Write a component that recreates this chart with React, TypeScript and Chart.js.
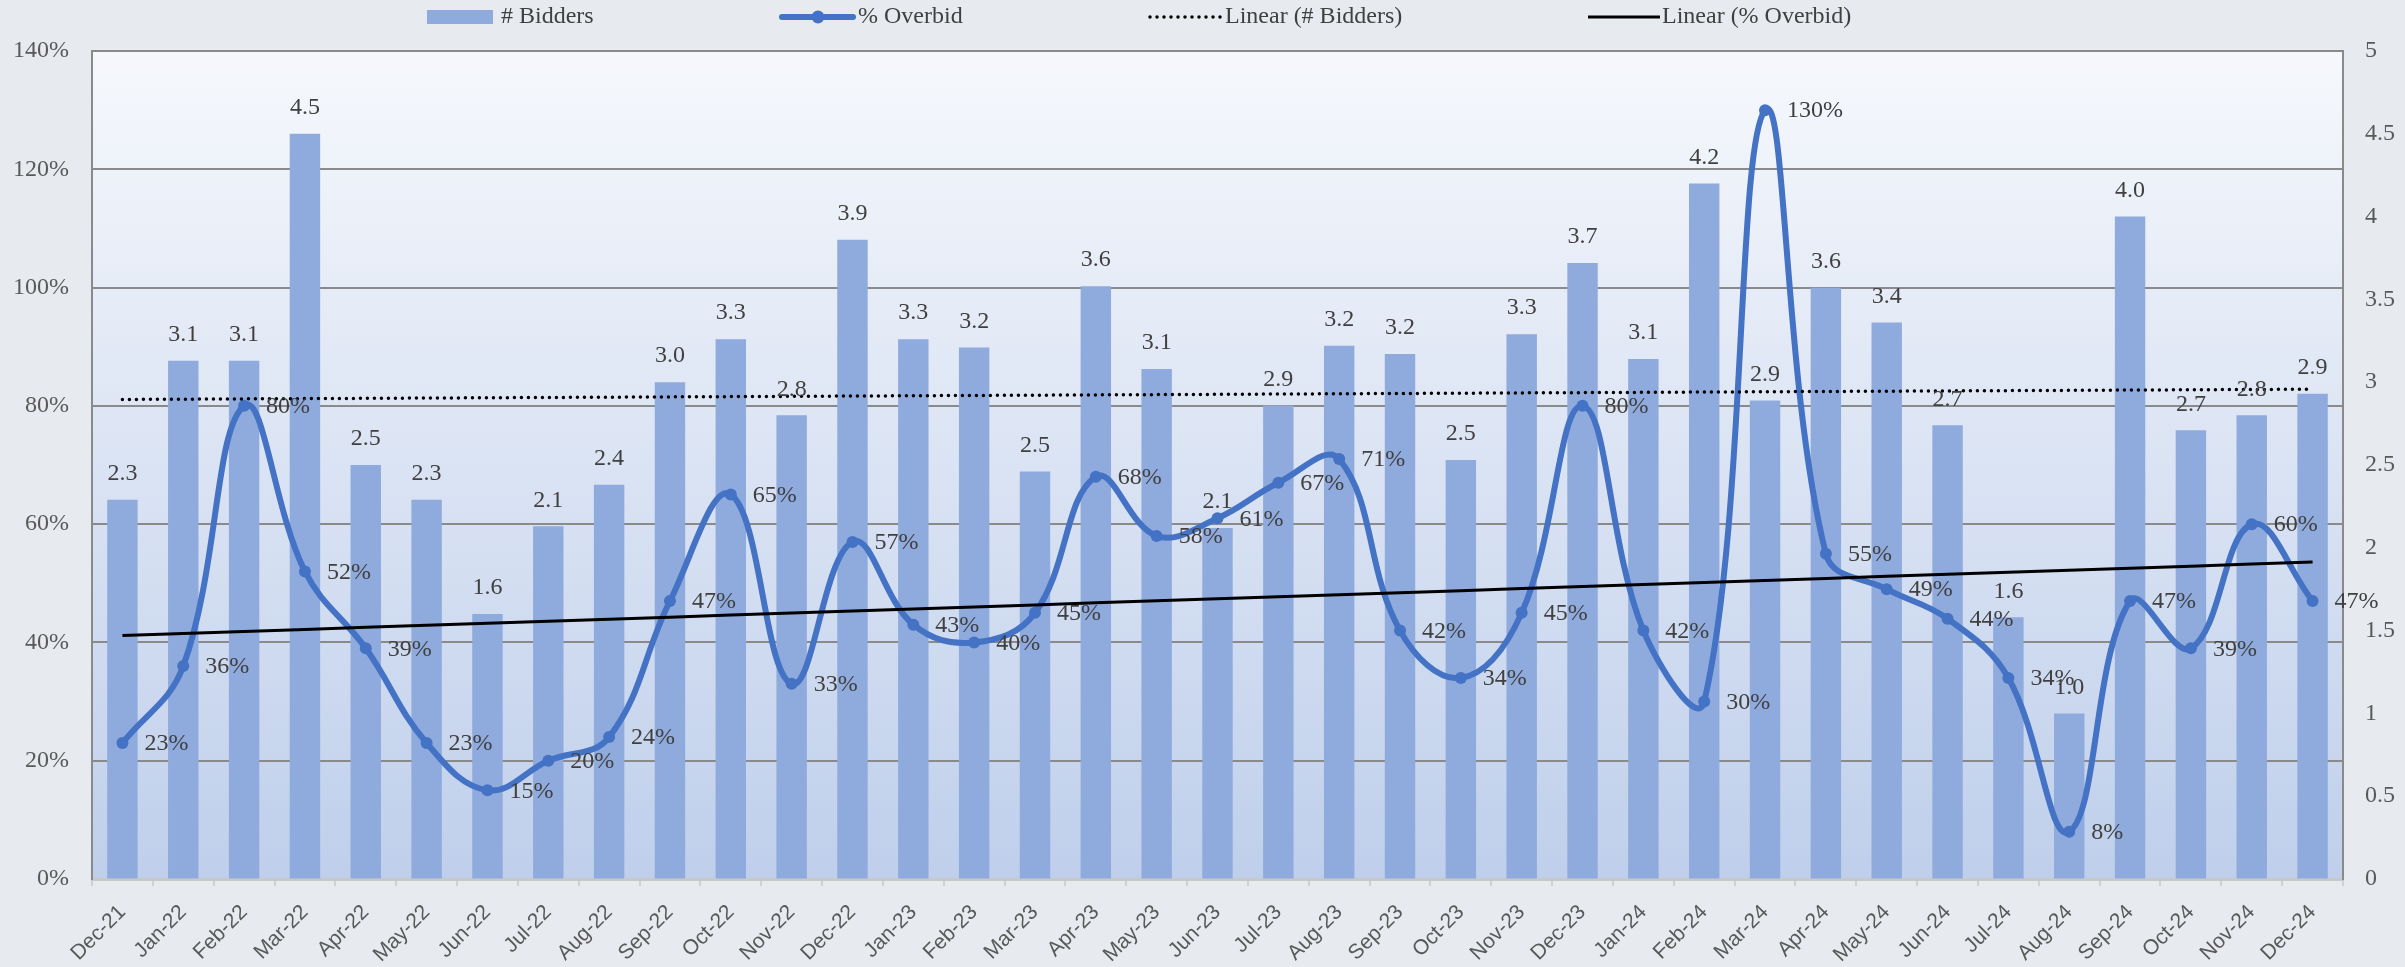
import React, { useEffect, useRef } from 'react';
import { Chart, registerables } from 'chart.js';

Chart.register(...registerables);

const months = [
  'Dec-21', 'Jan-22', 'Feb-22', 'Mar-22', 'Apr-22', 'May-22', 'Jun-22', 'Jul-22', 'Aug-22', 'Sep-22',
  'Oct-22', 'Nov-22', 'Dec-22', 'Jan-23', 'Feb-23', 'Mar-23', 'Apr-23', 'May-23', 'Jun-23', 'Jul-23',
  'Aug-23', 'Sep-23', 'Oct-23', 'Nov-23', 'Dec-23', 'Jan-24', 'Feb-24', 'Mar-24', 'Apr-24', 'May-24',
  'Jun-24', 'Jul-24', 'Aug-24', 'Sep-24', 'Oct-24', 'Nov-24', 'Dec-24',
];

// # Bidders (right axis); labels show one decimal
const bidders = [
  2.29, 3.13, 3.13, 4.5, 2.5, 2.29, 1.6, 2.13, 2.38, 3.0,
  3.26, 2.8, 3.86, 3.26, 3.21, 2.46, 3.58, 3.08, 2.12, 2.86,
  3.22, 3.17, 2.53, 3.29, 3.72, 3.14, 4.2, 2.89, 3.57, 3.36,
  2.74, 1.58, 1.0, 4.0, 2.71, 2.8, 2.93,
];

// % Overbid (left axis)
const overbid = [
  23, 36, 80, 52, 39, 23, 15, 20, 24, 47,
  65, 33, 57, 43, 40, 45, 68, 58, 61, 67,
  71, 42, 34, 45, 80, 42, 30, 130, 55, 49,
  44, 34, 8, 47, 39, 60, 47,
];

const pctTicks = [0, 20, 40, 60, 80, 100, 120, 140];
const bidTicks = [0, 0.5, 1, 1.5, 2, 2.5, 3, 3.5, 4, 4.5, 5];

const legendItems = ['# Bidders', '% Overbid', 'Linear (# Bidders)', 'Linear (% Overbid)'];

// Linear least-squares trendline (as Excel's "Linear" trendline)
function linearTrend(values: number[]): number[] {
  const n = values.length;
  let sx = 0, sy = 0, sxx = 0, sxy = 0;
  values.forEach((y, i) => { sx += i; sy += y; sxx += i * i; sxy += i * y; });
  const slope = (n * sxy - sx * sy) / (n * sxx - sx * sx);
  const icpt = (sy - slope * sx) / n;
  return values.map((_, i) => icpt + slope * i);
}

const SERIF = "'Liberation Serif', 'Times New Roman', serif";
const SANS = "'Liberation Sans', Arial, sans-serif";
const BAR = '#8faadc';
const LINE = '#4472c4';
const TEXT = '#404040';
const AXIS_TEXT = '#595959';
const GRID = '#8a8a8a';
const FS = 24;

const bgPlugin = {
  id: 'bgPlugin',
  beforeDraw(chart: any) {
    const { ctx, chartArea: a, width, height } = chart;
    ctx.save();
    ctx.fillStyle = '#e7ebef';
    ctx.fillRect(0, 0, width, height);
    const g = ctx.createLinearGradient(0, a.top, 0, a.bottom);
    g.addColorStop(0, '#f6f8fc');
    g.addColorStop(1, '#bfcfeb');
    ctx.fillStyle = g;
    ctx.fillRect(a.left, a.top, a.right - a.left, a.bottom - a.top);
    ctx.restore();
  },
};

const labelPlugin = {
  id: 'labelPlugin',
  afterDatasetsDraw(chart: any) {
    const { ctx } = chart;
    ctx.save();
    ctx.font = `${FS}px ${SERIF}`;
    ctx.fillStyle = TEXT;
    const barMeta = chart.getDatasetMeta(0);
    ctx.textAlign = 'center';
    ctx.textBaseline = 'middle';
    barMeta.data.forEach((el: any, i: number) => {
      ctx.fillText(bidders[i].toFixed(1), el.x, el.y - 26);
    });
    const lineMeta = chart.getDatasetMeta(1);
    ctx.textAlign = 'left';
    lineMeta.data.forEach((el: any, i: number) => {
      ctx.fillText(`${overbid[i]}%`, el.x + 22, el.y + 1);
    });
    ctx.restore();
  },
};

const legendPlugin = {
  id: 'legendPlugin',
  afterDraw(chart: any) {
    const { ctx } = chart;
    const y = 17;
    ctx.save();
    ctx.font = `${FS}px ${SERIF}`;
    ctx.fillStyle = TEXT;
    ctx.textAlign = 'left';
    ctx.textBaseline = 'middle';

    // # Bidders
    ctx.fillStyle = BAR;
    ctx.fillRect(427, 10, 66, 14);
    ctx.fillStyle = TEXT;
    ctx.fillText(legendItems[0], 501, y);

    // % Overbid
    ctx.strokeStyle = LINE;
    ctx.lineWidth = 6;
    ctx.lineCap = 'round';
    ctx.beginPath();
    ctx.moveTo(782, y);
    ctx.lineTo(853, y);
    ctx.stroke();
    ctx.fillStyle = LINE;
    ctx.beginPath();
    ctx.arc(818, y, 6.5, 0, Math.PI * 2);
    ctx.fill();
    ctx.fillStyle = TEXT;
    ctx.fillText(legendItems[1], 858, y);

    // Linear (# Bidders)
    ctx.strokeStyle = '#000';
    ctx.lineWidth = 3.5;
    ctx.setLineDash([0, 7]);
    ctx.beginPath();
    ctx.moveTo(1150, y);
    ctx.lineTo(1222, y);
    ctx.stroke();
    ctx.setLineDash([]);
    ctx.fillText(legendItems[2], 1225, y);

    // Linear (% Overbid)
    ctx.lineCap = 'butt';
    ctx.lineWidth = 3;
    ctx.beginPath();
    ctx.moveTo(1588, y);
    ctx.lineTo(1660, y);
    ctx.stroke();
    ctx.fillText(legendItems[3], 1662, y);
    ctx.restore();
  },
};

export default function App() {
  const canvasRef = useRef<HTMLCanvasElement | null>(null);

  useEffect(() => {
    document.body.style.margin = '0';
    document.body.style.background = '#e7ebef';
    const canvas = canvasRef.current;
    if (!canvas) return;

    const bidTrend = linearTrend(bidders);
    const overTrend = linearTrend(overbid);

    const chart = new Chart(canvas, {
      type: 'bar',
      data: {
        labels: months,
        datasets: [
          {
            type: 'bar',
            label: legendItems[0],
            data: bidders,
            yAxisID: 'y1',
            backgroundColor: BAR,
            borderWidth: 0,
            barPercentage: 0.5,
            categoryPercentage: 1,
            order: 10,
          },
          {
            type: 'line',
            label: legendItems[1],
            data: overbid,
            yAxisID: 'y',
            borderColor: LINE,
            backgroundColor: LINE,
            borderWidth: 6,
            pointRadius: 6,
            pointBorderWidth: 0,
            pointBackgroundColor: LINE,
            tension: 0.4,
            fill: false,
            order: 5,
          },
          {
            type: 'line',
            label: legendItems[2],
            data: bidTrend,
            yAxisID: 'y1',
            borderColor: '#000',
            borderWidth: 3.5,
            borderDash: [0, 7],
            borderCapStyle: 'round',
            pointRadius: 0,
            tension: 0,
            fill: false,
            order: 1,
          },
          {
            type: 'line',
            label: legendItems[3],
            data: overTrend,
            yAxisID: 'y',
            borderColor: '#000',
            borderWidth: 3,
            pointRadius: 0,
            tension: 0,
            fill: false,
            order: 2,
          },
        ],
      } as any,
      options: {
        responsive: false,
        animation: false,
        devicePixelRatio: 1,
        layout: { padding: { top: 51, left: 0, right: 0, bottom: 0 } },
        plugins: {
          legend: { display: false },
          tooltip: { enabled: false },
        },
        scales: {
          x: {
            offset: true,
            grid: {
              offset: true,
              drawOnChartArea: false,
              drawTicks: true,
              tickLength: 7,
              color: '#d0d0d0',
              lineWidth: 2,
            },
            border: { display: true, color: '#c8c8c8', width: 3 },
            ticks: {
              autoSkip: false,
              minRotation: 45,
              maxRotation: 45,
              padding: 14,
              color: AXIS_TEXT,
              font: { family: SANS, size: 21 },
            },
            afterFit: (s: any) => { s.height = 88; },
          },
          y: {
            position: 'left',
            min: 0,
            max: 140,
            afterBuildTicks: (s: any) => { s.ticks = pctTicks.map((v) => ({ value: v })); },
            grid: {
              drawTicks: false,
              color: (c: any) => (c.tick && c.tick.value === 0 ? 'rgba(0,0,0,0)' : GRID),
              lineWidth: 2,
            },
            border: { display: true, color: GRID, width: 2 },
            ticks: {
              padding: 23,
              color: AXIS_TEXT,
              font: { family: SERIF, size: FS },
              callback: (v: any) => `${v}%`,
            },
            afterFit: (s: any) => { s.width = 92; },
          },
          y1: {
            position: 'right',
            min: 0,
            max: 5,
            afterBuildTicks: (s: any) => { s.ticks = bidTicks.map((v) => ({ value: v })); },
            grid: { drawOnChartArea: false, drawTicks: false },
            border: { display: true, color: GRID, width: 2 },
            ticks: {
              padding: 22,
              color: AXIS_TEXT,
              font: { family: SERIF, size: FS },
              callback: (v: any) => `${v}`,
            },
            afterFit: (s: any) => { s.width = 62; },
          },
        },
      } as any,
      plugins: [bgPlugin, labelPlugin, legendPlugin],
    });

    return () => chart.destroy();
  }, []);

  return (
    <div style={{ width: 2405, height: 967 }}>
      <canvas ref={canvasRef} width={2405} height={967} style={{ display: 'block' }} />
    </div>
  );
}
